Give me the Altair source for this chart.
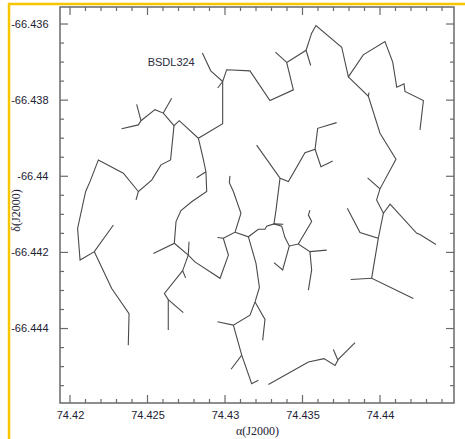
import altair as alt
import pandas as pd

# ---- axis ticks ----
RA_TICKS = [74.42, 74.425, 74.43, 74.435, 74.44]
RA_MINOR = [74.421, 74.422, 74.423, 74.424, 74.426, 74.427, 74.428, 74.429,
            74.431, 74.432, 74.433, 74.434, 74.436, 74.437, 74.438, 74.439,
            74.441, 74.442, 74.443, 74.444]
DEC_TICKS = [-66.436, -66.438, -66.44, -66.442, -66.444]
DEC_MINOR = [-66.4365, -66.437, -66.4375, -66.4385, -66.439, -66.4395,
             -66.4405, -66.441, -66.4415, -66.4425, -66.443, -66.4435,
             -66.4445, -66.445, -66.4455]
RA_DOMAIN = [74.419355, 74.444774]
DEC_DOMAIN = [-66.445956, -66.435553]

LABEL_TEXT = ["BSDL324"]
LABEL_RA = [74.42501]
LABEL_DEC = [-66.43703]

# ---- minimum spanning tree branches (ra, dec) ----
NORTH_EAST = [
    [(74.42854, -66.43676), (74.42908, -66.43723), (74.42985, -66.43751), (74.43011, -66.43720),
     (74.43161, -66.43723), (74.43290, -66.43801), (74.43441, -66.43773), (74.43398, -66.43701),
     (74.43523, -66.43669), (74.43559, -66.43624), (74.43587, -66.43604), (74.43753, -66.43661),
     (74.43796, -66.43739), (74.43892, -66.43681), (74.44032, -66.43646), (74.44082, -66.43700),
     (74.44108, -66.43766), (74.44129, -66.43762), (74.44155, -66.43757), (74.44161, -66.43777),
     (74.44280, -66.43801), (74.44258, -66.43878)],
    [(74.42985, -66.43751), (74.42953, -66.43768)],
    [(74.43398, -66.43701), (74.43325, -66.43674)],
    [(74.43523, -66.43669), (74.43553, -66.43709)],
    [(74.43796, -66.43739), (74.43925, -66.43790), (74.44000, -66.43887), (74.44103, -66.43955),
     (74.44000, -66.44033), (74.43978, -66.44062), (74.44022, -66.44097), (74.44065, -66.44073),
     (74.44237, -66.44150), (74.44258, -66.44153), (74.44361, -66.44179)],
    [(74.43925, -66.43790), (74.43929, -66.43780)],
    [(74.43920, -66.44004), (74.44000, -66.44033)],
    [(74.43789, -66.44084), (74.43871, -66.44148), (74.43989, -66.44163), (74.44022, -66.44097)],
    [(74.43989, -66.44163), (74.43946, -66.44268), (74.44215, -66.44321)],
    [(74.43946, -66.44268), (74.43811, -66.44271)],
]

WEST = [
    [(74.42985, -66.43751), (74.42985, -66.43862), (74.42828, -66.43900), (74.42705, -66.43854),
     (74.42671, -66.43867), (74.42602, -66.43834), (74.42548, -66.43825), (74.42458, -66.43854),
     (74.42441, -66.43865), (74.42333, -66.43875)],
    [(74.42458, -66.43854), (74.42430, -66.43811)],
    [(74.42602, -66.43834), (74.42656, -66.43795)],
    [(74.42671, -66.43867), (74.42649, -66.43957), (74.42587, -66.43970), (74.42527, -66.44010),
     (74.42441, -66.44040), (74.42426, -66.44062)],
    [(74.42441, -66.44040), (74.42344, -66.43992), (74.42183, -66.43957), (74.42129, -66.44014),
     (74.42101, -66.44040), (74.42049, -66.44137), (74.42065, -66.44220), (74.42157, -66.44198),
     (74.42280, -66.44128)],
    [(74.42157, -66.44198), (74.42269, -66.44295), (74.42381, -66.44361), (74.42376, -66.44444)],
    [(74.42828, -66.43900), (74.42856, -66.43948), (74.42877, -66.43988), (74.42882, -66.44040),
     (74.42785, -66.44067), (74.42716, -66.44090), (74.42684, -66.44119), (74.42673, -66.44176),
     (74.42538, -66.44203)],
    [(74.42817, -66.44004), (74.42877, -66.43988)],
    [(74.42673, -66.44176), (74.42763, -66.44207), (74.42806, -66.44225), (74.42968, -66.44268),
     (74.43022, -66.44207), (74.42989, -66.44163), (74.42951, -66.44161)],
    [(74.42989, -66.44163), (74.43065, -66.44147), (74.43103, -66.44097), (74.43054, -66.44040),
     (74.43028, -66.44017), (74.43032, -66.43999)],
    [(74.42763, -66.44207), (74.42768, -66.44172)],
    [(74.42763, -66.44207), (74.42727, -66.44248), (74.42746, -66.44267)],
    [(74.42727, -66.44248), (74.42609, -66.44308), (74.42634, -66.44324), (74.42731, -66.44358)],
    [(74.42634, -66.44324), (74.42634, -66.44404)],
]

CENTER = [
    [(74.43065, -66.44147), (74.43151, -66.44159), (74.43215, -66.44139), (74.43258, -66.44139),
     (74.43269, -66.44131), (74.43316, -66.44125), (74.43376, -66.44126)],
    [(74.43316, -66.44125), (74.43329, -66.44089), (74.43355, -66.44005), (74.43204, -66.43918)],
    [(74.43355, -66.44005), (74.43409, -66.44014), (74.43516, -66.43938), (74.43581, -66.43929),
     (74.43598, -66.43874), (74.43720, -66.43859)],
    [(74.43581, -66.43929), (74.43619, -66.43975), (74.43695, -66.43960)],
    [(74.43316, -66.44125), (74.43366, -66.44131), (74.43387, -66.44161), (74.43415, -66.44183),
     (74.43473, -66.44178), (74.43548, -66.44198), (74.43656, -66.44194)],
    [(74.43415, -66.44183), (74.43372, -66.44246), (74.43316, -66.44227)],
    [(74.43473, -66.44178), (74.43559, -66.44119), (74.43538, -66.44102), (74.43548, -66.44089)],
    [(74.43548, -66.44198), (74.43559, -66.44246), (74.43538, -66.44299)],
]

SOUTH = [
    [(74.43151, -66.44159), (74.43200, -66.44229), (74.43222, -66.44292), (74.43194, -66.44330),
     (74.43161, -66.44365), (74.43054, -66.44391), (74.42951, -66.44382)],
    [(74.43194, -66.44330), (74.43258, -66.44376), (74.43243, -66.44431)],
    [(74.43054, -66.44391), (74.43075, -66.44422), (74.43108, -66.44470), (74.43172, -66.44545),
     (74.43215, -66.44536)],
    [(74.43108, -66.44470), (74.43039, -66.44507)],
    [(74.43280, -66.44547), (74.43538, -66.44488), (74.43639, -66.44479), (74.43710, -66.44497),
     (74.43731, -66.44481), (74.43839, -66.44437)],
    [(74.43727, -66.44482), (74.43699, -66.44455)],
]

rows = []
bid = 0
for group in (NORTH_EAST, WEST, CENTER, SOUTH):
    for branch in group:
        for i, (ra, dec) in enumerate(branch):
            rows.append({"ra": ra, "dec": dec, "branch": bid, "seq": i})
        bid += 1
lines_df = pd.DataFrame(rows)

W, H = 394, 396
FRAME = "#6a6a6a"
INK = "#4a4a4a"

xscale = alt.Scale(domain=RA_DOMAIN, nice=False, zero=False)
yscale = alt.Scale(domain=DEC_DOMAIN, nice=False, zero=False)

x_axis = alt.Axis(
    values=RA_TICKS, ticks=False, domain=False, grid=False,
    labelExpr="format(datum.value, '.3~f')",
    labelFont="Liberation Sans", labelFontSize=11, labelColor="#222233",
    labelPadding=6, labelFlush=False,
    title="α(J2000)", titleFont="Liberation Serif", titleFontSize=12,
    titleFontWeight="normal", titleColor="#222233", titleY=27,
    titleBaseline="middle",
)
y_axis = alt.Axis(
    values=DEC_TICKS, ticks=False, domain=False, grid=False,
    labelExpr="'-' + format(abs(datum.value), '.3~f')",
    labelFont="Liberation Sans", labelFontSize=11, labelColor="#222233",
    labelPadding=12, labelFlush=False,
    title="δ(J2000)", titleFont="Liberation Serif", titleFontSize=12,
    titleFontWeight="normal", titleColor="#222233", titleX=-45, titleY=203,
    titleAngle=270, titleAlign="center", titleBaseline="middle",
)

lines = alt.Chart(lines_df).mark_line(color=INK, strokeWidth=1.1).encode(
    x=alt.X("ra:Q", scale=xscale, axis=x_axis),
    y=alt.Y("dec:Q", scale=yscale, axis=y_axis),
    detail="branch:N",
    order="seq:Q",
)

label = alt.Chart(pd.DataFrame({"t": LABEL_TEXT, "ra": LABEL_RA, "dec": LABEL_DEC})).mark_text(
    align="left", baseline="middle", font="Liberation Sans", fontSize=11, color="#2b2b3b"
).encode(x=alt.X("ra:Q", scale=xscale), y=alt.Y("dec:Q", scale=yscale), text="t:N")

rx_major = pd.DataFrame({"v": RA_TICKS})
rx_minor = pd.DataFrame({"v": RA_MINOR})
ry_major = pd.DataFrame({"v": DEC_TICKS})
ry_minor = pd.DataFrame({"v": DEC_MINOR})

def xticks(df, length):
    bottom = alt.Chart(df).mark_rule(color=FRAME, strokeWidth=1.2).encode(
        x=alt.X("v:Q", scale=xscale), y=alt.value(H), y2=alt.value(H - length))
    top = alt.Chart(df).mark_rule(color=FRAME, strokeWidth=1.2).encode(
        x=alt.X("v:Q", scale=xscale), y=alt.value(0), y2=alt.value(length))
    return [bottom, top]

def yticks(df, length):
    left = alt.Chart(df).mark_rule(color=FRAME, strokeWidth=1.2).encode(
        y=alt.Y("v:Q", scale=yscale), x=alt.value(0), x2=alt.value(length))
    right = alt.Chart(df).mark_rule(color=FRAME, strokeWidth=1.2).encode(
        y=alt.Y("v:Q", scale=yscale), x=alt.value(W), x2=alt.value(W - length))
    return [left, right]

one = pd.DataFrame({"k": [0]})
yellow_left = alt.Chart(one).mark_rule(color="#F7C600", strokeWidth=2.5).encode(
    x=alt.value(-51), y=alt.value(-4), y2=alt.value(432))
yellow_top = alt.Chart(one).mark_rule(color="#F7C600", strokeWidth=2.5).encode(
    y=alt.value(-3), x=alt.value(-52), x2=alt.value(405))

layers = [lines, label] + xticks(rx_major, 8) + xticks(rx_minor, 4) + \
    yticks(ry_major, 8) + yticks(ry_minor, 4) + [yellow_left, yellow_top]

chart = alt.layer(*layers).properties(
    width=W, height=H,
    autosize=alt.AutoSizeParams(type="none"),
    padding={"left": 60, "top": 7, "right": 11, "bottom": 36},
    background="white",
).configure_view(stroke=FRAME, strokeWidth=1.5)

chart.save("out.html", embed_options={"renderer": "svg", "actions": False})
